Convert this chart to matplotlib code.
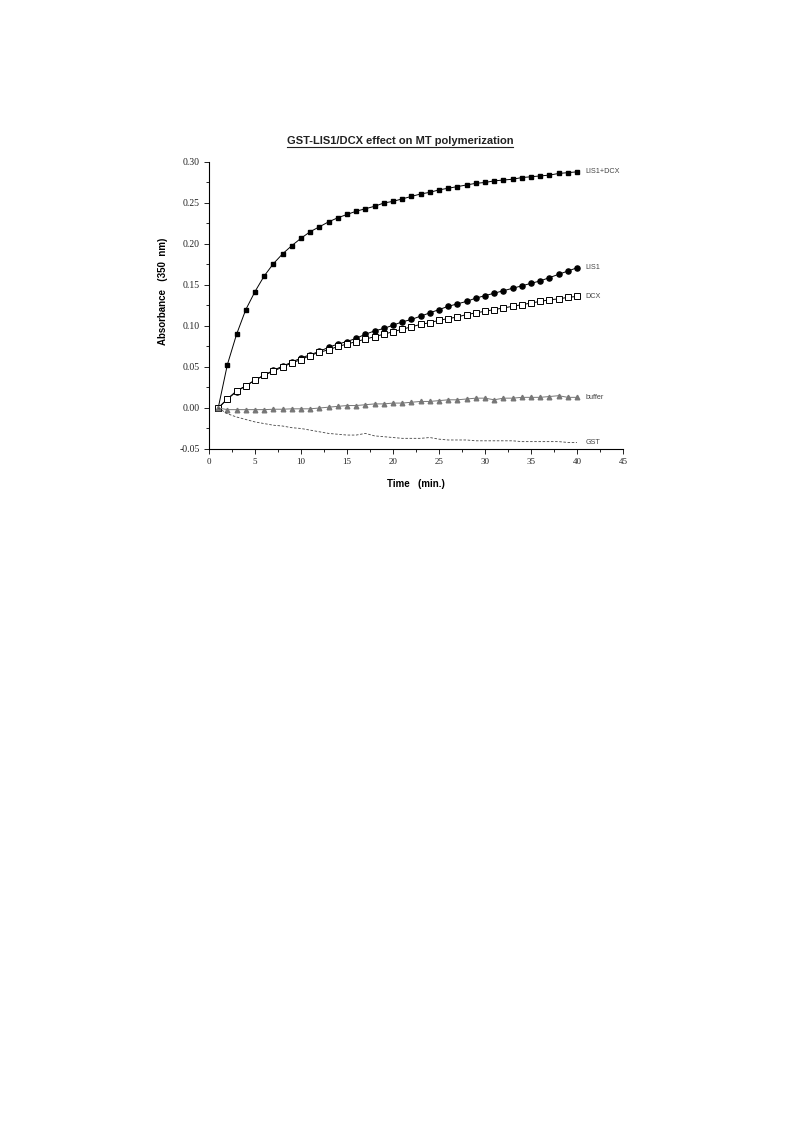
import matplotlib
matplotlib.use("Agg")
import matplotlib.pyplot as plt
from matplotlib.lines import Line2D
import numpy as np

# time points (min.)
time = np.arange(1, 41)

lis1_dcx = [0.0, 0.053, 0.090, 0.120, 0.142, 0.161, 0.176, 0.188, 0.198, 0.207,
            0.215, 0.221, 0.227, 0.232, 0.236, 0.240, 0.243, 0.246, 0.250, 0.252,
            0.255, 0.258, 0.261, 0.263, 0.266, 0.268, 0.270, 0.272, 0.274, 0.275,
            0.277, 0.278, 0.279, 0.281, 0.282, 0.283, 0.284, 0.286, 0.287, 0.288]
lis1 = [0.0, 0.011, 0.020, 0.027, 0.034, 0.040, 0.046, 0.051, 0.056, 0.061,
        0.065, 0.069, 0.074, 0.078, 0.081, 0.085, 0.090, 0.094, 0.097, 0.101,
        0.105, 0.108, 0.112, 0.116, 0.120, 0.124, 0.127, 0.130, 0.134, 0.137,
        0.140, 0.143, 0.146, 0.149, 0.152, 0.155, 0.159, 0.163, 0.167, 0.171]
dcx = [0.0, 0.011, 0.021, 0.027, 0.034, 0.040, 0.045, 0.050, 0.055, 0.059,
       0.064, 0.068, 0.071, 0.075, 0.078, 0.081, 0.084, 0.087, 0.090, 0.093,
       0.096, 0.099, 0.102, 0.104, 0.107, 0.109, 0.111, 0.114, 0.116, 0.118,
       0.120, 0.122, 0.124, 0.126, 0.128, 0.130, 0.132, 0.133, 0.135, 0.136]
buffer = [0.0, -0.002, -0.002, -0.002, -0.002, -0.002, -0.0015, -0.0015, -0.001, -0.001,
          -0.001, 0.0, 0.001, 0.002, 0.003, 0.003, 0.004, 0.005, 0.005, 0.006,
          0.006, 0.007, 0.008, 0.008, 0.009, 0.010, 0.010, 0.011, 0.012, 0.012,
          0.010, 0.012, 0.012, 0.013, 0.013, 0.013, 0.014, 0.015, 0.013, 0.013]
gst = [0.0, -0.007, -0.011, -0.014, -0.017, -0.019, -0.021, -0.022, -0.024, -0.025,
       -0.027, -0.029, -0.031, -0.032, -0.033, -0.033, -0.031, -0.034, -0.035, -0.036,
       -0.037, -0.037, -0.037, -0.036, -0.038, -0.039, -0.039, -0.039, -0.040, -0.040,
       -0.040, -0.040, -0.040, -0.041, -0.041, -0.041, -0.041, -0.041, -0.042, -0.042]

W, H = 793, 1123
fig = plt.figure(figsize=(W / 100, H / 100), dpi=100)
ax = fig.add_axes([209 / W, 1 - 449 / H, 414 / W, 287 / H])

lw = 0.7
ax.plot(time, lis1_dcx, color="black", lw=lw, marker="s", ms=2.3,
        mfc="black", mec="black")
ax.plot(time, lis1, color="black", lw=lw, marker="o", ms=3.7,
        mfc="black", mec="black")
ax.plot(time, dcx, color="black", lw=lw, marker="s", ms=3.8,
        mfc="white", mec="black", mew=0.7)
ax.plot(time, buffer, color="#777777", lw=lw, marker="^", ms=3.3,
        mfc="#777777", mec="#777777")
ax.plot(time, gst, color="#444444", lw=0.6, linestyle=(0, (3, 2)))

ax.set_xlim(0, 45)
ax.set_ylim(-0.05, 0.30)
ax.set_xticks(np.arange(0, 46, 5))
ax.set_xticks(np.arange(0, 46, 2.5), minor=True)
ax.set_yticks(np.arange(-0.05, 0.301, 0.05))
ax.set_yticks(np.arange(-0.05, 0.301, 0.025), minor=True)
ax.set_yticklabels([f"{v:.2f}" for v in np.arange(-0.05, 0.301, 0.05)])

for s in ["top", "right"]:
    ax.spines[s].set_visible(False)
for s in ["left", "bottom"]:
    ax.spines[s].set_linewidth(0.8)

ax.tick_params(which="major", direction="out", length=3.5, width=0.7,
               labelsize=6.5, pad=3, colors="#222222")
ax.tick_params(axis="y", labelsize=7)
ax.tick_params(which="minor", direction="out", length=2, width=0.6)
for lab in ax.get_xticklabels() + ax.get_yticklabels():
    lab.set_fontfamily("Liberation Serif")

# series labels at the right
labels = [("LIS1+DCX", lis1_dcx), ("LIS1", lis1), ("DCX", dcx),
          ("buffer", buffer), ("GST", gst)]
for name, vals in labels:
    ax.annotate(name, xy=(time[-1], vals[-1]), xytext=(6, 0),
                textcoords="offset points", va="center", ha="left",
                fontsize=5.2, color="#444444", family="Liberation Sans")

# axis titles
fig.text(416 / W, 1 - 484 / H, "Time   (min.)", ha="center", va="center",
         fontsize=7, fontweight="bold", family="Liberation Sans")
fig.text(163 / W, 1 - 291 / H, "Absorbance   (350  nm)", ha="center",
         va="center", rotation=90, fontsize=7, fontweight="bold",
         family="Liberation Sans")

# underlined title
title = fig.text(400 / W, 1 - 141 / H, "GST-LIS1/DCX effect on MT polymerization",
                 ha="center", va="center", fontsize=8, fontweight="bold",
                 family="Liberation Sans", color="#222222")
fig.canvas.draw()
bb = title.get_window_extent(renderer=fig.canvas.get_renderer())
y_line = (bb.y0 - 1) / H
fig.add_artist(Line2D([bb.x0 / W, bb.x1 / W], [y_line, y_line],
                      transform=fig.transFigure, color="#222222", lw=0.8))

fig.savefig("out.png", dpi=100)
